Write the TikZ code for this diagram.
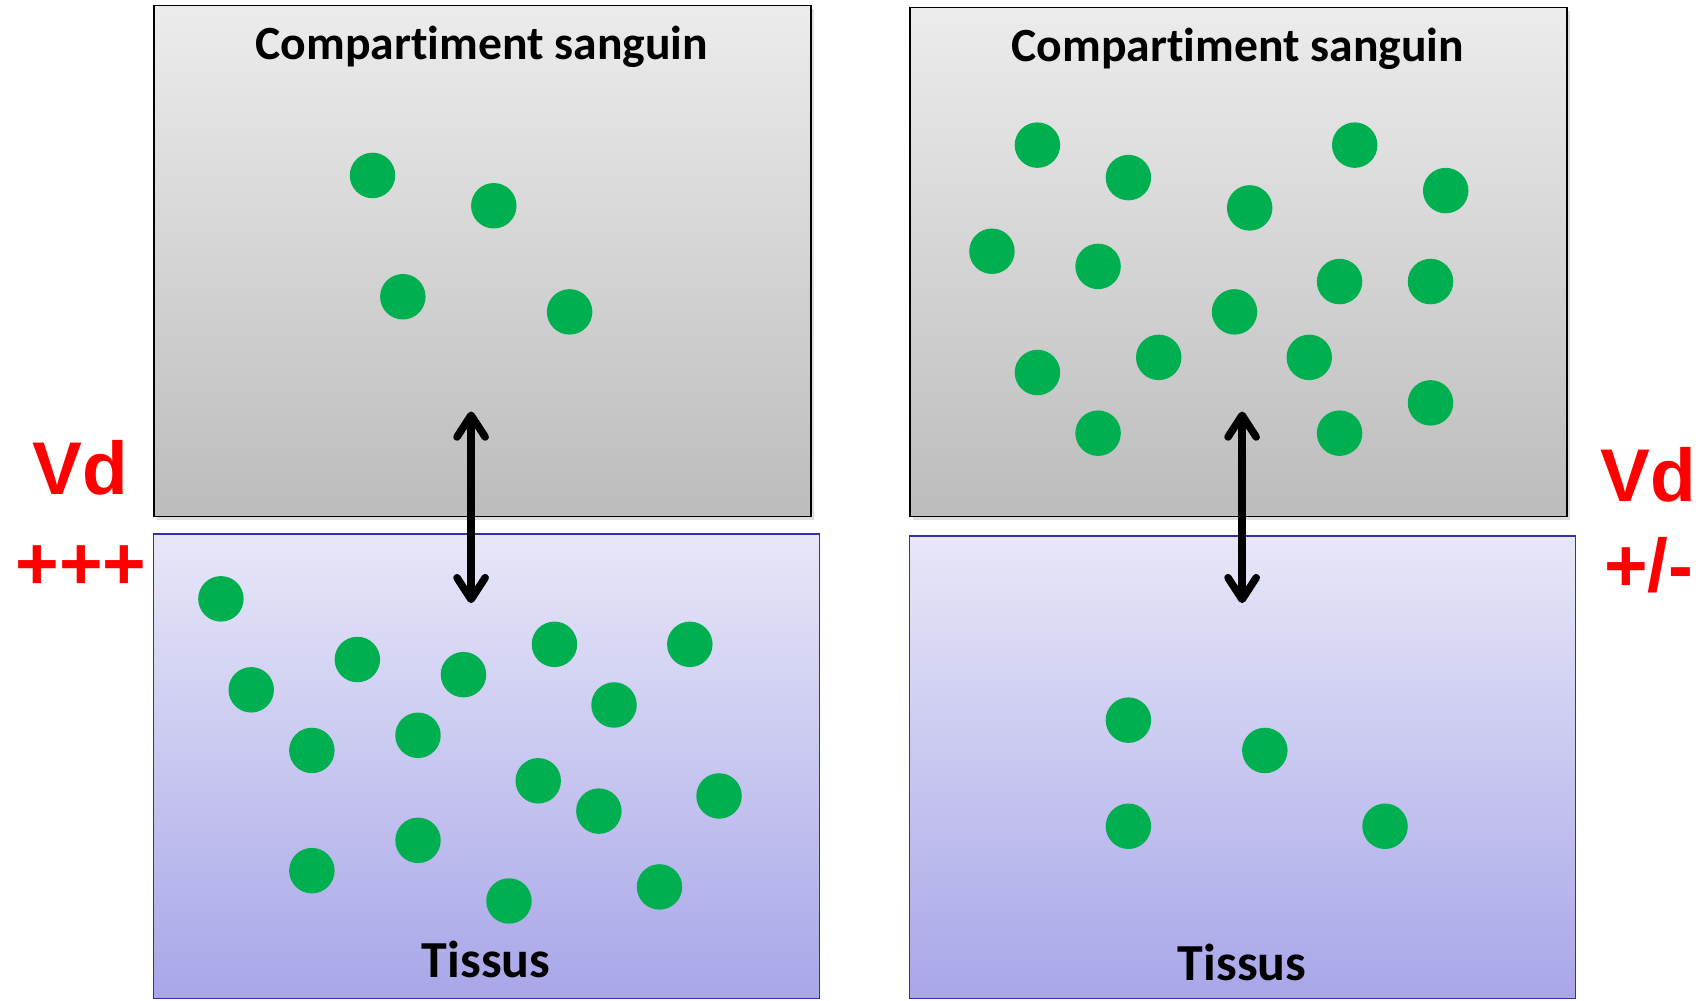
\documentclass[tikz,border=0pt]{standalone}
\usepackage{fontspec}
\setmainfont{Carlito}[Ligatures=NoCommon]
\newfontfamily\arialb{Liberation Sans}
\usetikzlibrary{arrows.meta,shadows}
\definecolor{dotgreen}{HTML}{00B050}
\definecolor{vdred}{HTML}{FF0000}
\definecolor{tisborder}{HTML}{3333A0}
\tikzset{
  blood/.style={draw=black, line width=1.6pt, rectangle, inner sep=0pt,
    top color={rgb,255:red,236;green,236;blue,236}, bottom color={rgb,255:red,188;green,188;blue,188},
    drop shadow={opacity=0.25, shadow xshift=3pt, shadow yshift=-3pt}},
  tissue/.style={draw=tisborder, line width=1.2pt, rectangle, inner sep=0pt,
    top color={rgb,255:red,231;green,231;blue,248}, bottom color={rgb,255:red,168;green,166;blue,232}},
  dot/.style={fill=dotgreen, draw=none, circle, minimum size=42pt, inner sep=0pt},
  title/.style={font=\bfseries\fontsize{44}{50}\selectfont, anchor=base},
  tistitle/.style={font=\bfseries\fontsize{48}{54}\selectfont, anchor=base},
  vd/.style={font=\arialb\bfseries\fontsize{69}{76}\selectfont, text=vdred, anchor=base west, inner sep=0pt},
  exch/.style={line width=7pt, {Straight Barb[length=20pt,width=26pt,line cap=round,line join=round]}-{Straight Barb[length=20pt,width=26pt,line cap=round,line join=round]}, line cap=round}
}
\begin{document}
\begin{tikzpicture}[x=1pt,y=-1pt]
\useasboundingbox (0,0) rectangle (1568,924);
% boxes
\node[blood, minimum width=607pt, minimum height=472pt] (bl) at (445.5,241) {};
\node[tissue, minimum width=615pt, minimum height=429pt] (tl) at (449.5,707.5) {};
\node[blood, minimum width=607pt, minimum height=470pt] (br) at (1143.5,242) {};
\node[tissue, minimum width=615pt, minimum height=427pt] (tr) at (1147.5,708.5) {};
% titles
\node[title] (bltitle) at (445,55) {Compart\kern0pt iment sanguin};
\node[title] (brtitle) at (1143,57) {Compart\kern0pt iment sanguin};
\node[tistitle] (tltitle) at (449,903) {Tissus};
\node[tistitle] (trtitle) at (1147,905) {Tissus};
% dots
\foreach \p [count=\i] in {(344,162),(456,190),(372,274),(526,288)}
  \node[dot] (lb\i) at \p {};
\foreach \p [count=\i] in {(204,553),(232,637),(330,609),(428,623),(512,595),(637,595),(567,651),(288,693),(386,679),(497,721),(553,749),(664,735),(288,804),(386,776),(470,832),(609,819)}
  \node[dot] (lt\i) at \p {};
\foreach \p [count=\i] in {(958,134),(1042,164),(1251,134),(1154,192),(1335,176),(916,232),(1014,246),(1237,260),(1321,260),(1140,288),(1070,330),(1209,330),(958,344),(1014,400),(1237,400),(1321,372)}
  \node[dot] (rb\i) at \p {};
\foreach \p [count=\i] in {(1042,665),(1168,693),(1042,763),(1279,763)}
  \node[dot] (rt\i) at \p {};
% arrows
\coordinate (la1) at (435,380);
\coordinate (la2) at (435,557);
\coordinate (ra1) at (1147,380);
\coordinate (ra2) at (1147,557);
\draw[exch] (la1) -- (la2);
\draw[exch] (ra1) -- (ra2);
% Vd labels
\node[vd] (vdl) at (30,457) {Vd};
\node[vd] (ppl) at (14,544) {+++};
\node[vd] (vdr) at (1478,463) {Vd};
\node[vd] (pmr) at (1481,546) {+/-};
\end{tikzpicture}
\end{document}
